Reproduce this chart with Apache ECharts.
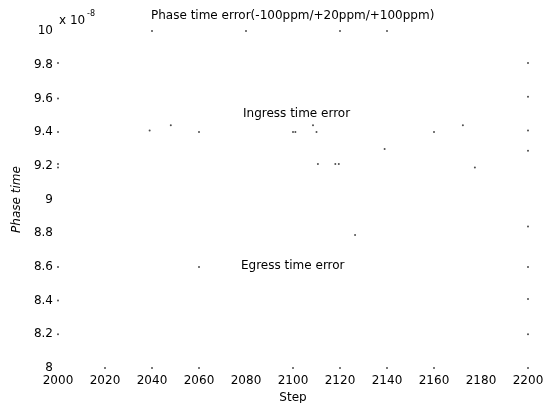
<!DOCTYPE html>
<html>
<head>
<meta charset="utf-8">
<script src="https://cdn.jsdelivr.net/npm/echarts@6/dist/echarts.min.js"></script>
<style>
html,body{margin:0;padding:0;background:#fff;}
#chart{width:549px;height:403px;}
</style>
</head>
<body>
<div id="chart"></div>
<script>
// Axis settings (phase time in units of 1e-8)
const stepMin = 2000, stepMax = 2200, stepInterval = 20;
const phaseMin = 8, phaseMax = 10, phaseInterval = 0.2;

// Faint marks visible in the picture: step (x) and phase time (y, x 1e-8)
const markSteps = [
  2000, 2000, 2000, 2000, 2000, 2000, 2000, 2000,
  2040, 2080, 2120, 2140,
  2020, 2040, 2060, 2100, 2120, 2140, 2160, 2200,
  2200, 2200, 2200, 2200, 2200, 2200, 2200, 2200,
  2039, 2048, 2060, 2100, 2101, 2108.5, 2110, 2110.6, 2118, 2119.5,
  2139, 2160, 2172.3, 2177.4, 2126.4, 2060
];
const markPhase = [
  9.81, 9.60, 9.40, 9.21, 9.19, 8.60, 8.40, 8.20,
  10.0, 10.0, 10.0, 10.0,
  8.0, 8.0, 8.0, 8.0, 8.0, 8.0, 8.0, 8.0,
  9.81, 9.61, 9.41, 9.29, 8.84, 8.60, 8.41, 8.20,
  9.41, 9.44, 9.40, 9.40, 9.40, 9.44, 9.40, 9.21, 9.21, 9.21,
  9.30, 9.40, 9.44, 9.19, 8.79, 8.60
];

const titleText = 'Phase time error(-100ppm/+20ppm/+100ppm)';
const ingressLabel = 'Ingress time error';
const egressLabel = 'Egress time error';
const xName = 'Step';
const yName = 'Phase time';

const FONT = 'DejaVu Sans';
const chart = echarts.init(document.getElementById('chart'), null, {renderer: 'canvas', width: 549, height: 403});
const pts = markSteps.map((s, i) => [s, markPhase[i]]);

chart.setOption({
  animation: false,
  backgroundColor: '#fff',
  title: {
    text: titleText,
    left: 146, top: 5,
    textStyle: {fontFamily: FONT, fontSize: 12, fontWeight: 'normal', color: '#000'}
  },
  grid: {left: 58, right: 21, top: 31, bottom: 35, containLabel: false, outerBoundsMode: 'none'},
  xAxis: {
    type: 'value', min: stepMin, max: stepMax, interval: stepInterval,
    name: xName, nameLocation: 'middle', nameGap: 23,
    nameTextStyle: {fontFamily: FONT, fontSize: 12, color: '#000'},
    axisLine: {show: false}, axisTick: {show: false}, splitLine: {show: false},
    axisLabel: {fontFamily: FONT, fontSize: 12, color: '#000', margin: 7,
      formatter: v => String(v)}
  },
  yAxis: {
    type: 'value', min: phaseMin, max: phaseMax, interval: phaseInterval,
    name: yName, nameLocation: 'middle', nameGap: 30, nameRotate: 90,
    nameTextStyle: {fontFamily: FONT, fontSize: 12, color: '#000', fontStyle: 'italic'},
    axisLine: {show: false}, axisTick: {show: false}, splitLine: {show: false},
    axisLabel: {fontFamily: FONT, fontSize: 12, color: '#000', margin: 5,
      formatter: v => String(+v.toFixed(1))}
  },
  series: [{
    type: 'scatter',
    data: pts,
    symbol: 'circle',
    symbolSize: 2,
    itemStyle: {color: '#222'},
    silent: true
  }],
  graphic: [
    {type: 'text', left: 59, top: 15, style: {text: 'x 10', font: '12px "DejaVu Sans"', fill: '#000'}},
    {type: 'text', left: 87, top: 10, style: {text: '-8', font: '8px "DejaVu Sans"', fill: '#000'}},
    {type: 'text', left: 243, top: 108, style: {text: ingressLabel, font: '12px "DejaVu Sans"', fill: '#000'}},
    {type: 'text', left: 241, top: 260, style: {text: egressLabel, font: '12px "DejaVu Sans"', fill: '#000'}}
  ]
});
</script>
</body>
</html>
